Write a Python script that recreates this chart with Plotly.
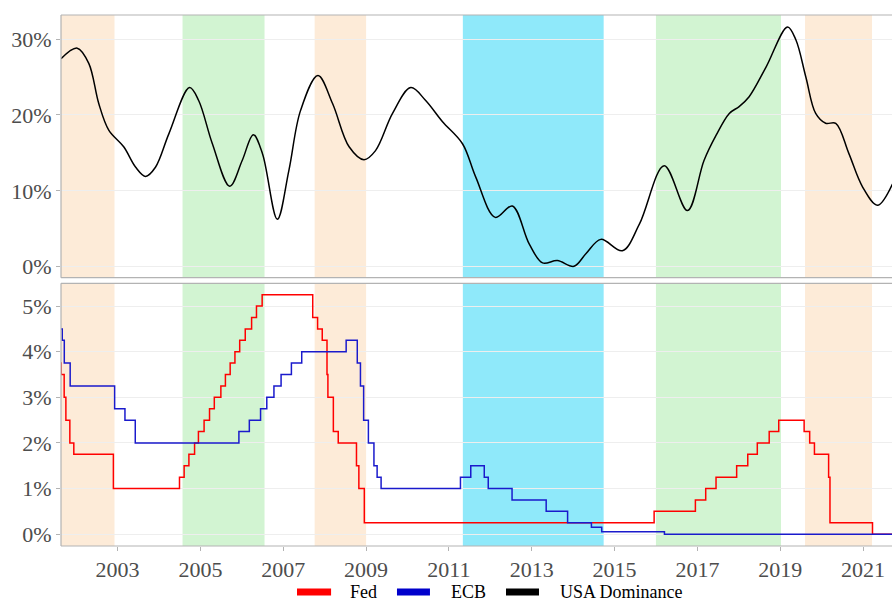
import plotly.graph_objects as go

# Federal funds target rate (upper bound), % -- step changes
fed_dates = [
    "2001-06-27", "2001-08-21", "2001-09-17", "2001-10-02", "2001-11-06", "2001-12-11",
    "2002-11-25", "2004-06-30", "2004-08-10", "2004-09-21", "2004-11-10", "2004-12-14",
    "2005-02-02", "2005-03-22", "2005-05-03", "2005-06-30", "2005-08-09", "2005-09-20",
    "2005-11-01", "2005-12-13", "2006-01-31", "2006-03-28", "2006-05-10", "2006-06-29",
    "2007-09-18", "2007-10-31", "2007-12-11", "2008-01-22", "2008-01-30", "2008-03-18",
    "2008-04-30", "2008-10-08", "2008-10-29", "2008-12-16", "2015-12-16", "2016-12-14",
    "2017-03-15", "2017-06-14", "2017-12-13", "2018-03-21", "2018-06-13", "2018-09-26",
    "2018-12-19", "2019-07-31", "2019-09-18", "2019-10-30", "2020-03-03", "2020-03-15",
    "2021-03-25", "2021-12-31",
]
fed_rate = [
    3.75, 3.5, 3.0, 2.5, 2.0, 1.75,
    1.0, 1.25, 1.5, 1.75, 2.0, 2.25,
    2.5, 2.75, 3.0, 3.25, 3.5, 3.75,
    4.0, 4.25, 4.5, 4.75, 5.0, 5.25,
    4.75, 4.5, 4.25, 3.5, 3.0, 2.25,
    2.0, 1.5, 1.0, 0.25, 0.5, 0.75,
    1.0, 1.25, 1.5, 1.75, 2.0, 2.25,
    2.5, 2.25, 2.0, 1.75, 1.25, 0.25,
    0.0, 0.0,
]

# ECB main refinancing rate, % -- step changes
ecb_dates = [
    "2001-05-15", "2001-08-31", "2001-09-18", "2001-11-09", "2002-12-06", "2003-03-07",
    "2003-06-06", "2005-12-06", "2006-03-08", "2006-06-15", "2006-08-09", "2006-10-11",
    "2006-12-13", "2007-03-14", "2007-06-13", "2008-07-09", "2008-10-15", "2008-11-12",
    "2008-12-10", "2009-01-21", "2009-03-11", "2009-04-08", "2009-05-13", "2011-04-13",
    "2011-07-13", "2011-11-09", "2011-12-14", "2012-07-11", "2013-05-08", "2013-11-13",
    "2014-06-11", "2014-09-10", "2016-03-16", "2021-12-31",
]
ecb_rate = [
    4.5, 4.25, 3.75, 3.25, 2.75, 2.5,
    2.0, 2.25, 2.5, 2.75, 3.0, 3.25,
    3.5, 3.75, 4.0, 4.25, 3.75, 3.25,
    2.5, 2.0, 1.5, 1.25, 1.0, 1.25,
    1.5, 1.25, 1.0, 0.75, 0.5, 0.25,
    0.15, 0.05, 0.0, 0.0,
]

# USA dominance, %
dom_dates = [
    "2001-08-20", "2002-01-10", "2002-04-22", "2002-07-19", "2002-10-15", "2003-02-24",
    "2003-06-10", "2003-09-05", "2003-12-01", "2004-03-28", "2004-09-27", "2004-12-16",
    "2005-04-16", "2005-09-16", "2006-01-04", "2006-04-12", "2006-07-02", "2006-11-10",
    "2007-02-20", "2007-06-03", "2007-11-03", "2008-03-11", "2008-08-04", "2008-12-13",
    "2009-03-25", "2009-08-22", "2010-01-30", "2010-06-10", "2010-11-06", "2011-05-01",
    "2011-08-26", "2012-02-14", "2012-07-13", "2012-12-09", "2013-04-06", "2013-08-15",
    "2014-01-08", "2014-04-23", "2014-09-02", "2015-03-11", "2015-08-08", "2016-03-14",
    "2016-10-05", "2017-02-28", "2017-06-14", "2017-10-09", "2018-01-04", "2018-04-02",
    "2018-08-29", "2019-03-07", "2019-05-19", "2019-08-15", "2019-11-10", "2020-02-06",
    "2020-05-05", "2020-08-29", "2020-12-28", "2021-05-08", "2021-09-17",
]
dom_share = [
    27.4, 28.8, 26.8, 21.5, 18.0, 15.8,
    13.1, 11.9, 13.1, 17.5, 23.6, 21.9,
    16.2, 10.6, 14.0, 17.4, 14.9, 6.25,
    12.7, 20.6, 25.2, 21.5, 15.8, 14.1,
    15.3, 20.2, 23.6, 21.9, 19.1, 16.2,
    11.8, 6.5, 8.0, 3.0, 0.5, 0.8,
    0.05, 1.7, 3.6, 2.1, 5.6, 13.3,
    7.4, 14.0, 17.3, 20.2, 21.1, 22.4,
    26.3, 31.6, 29.9, 25.0, 20.2, 18.9,
    18.9, 14.9, 10.5, 8.1, 10.9,
]

# Highlighted periods
band_start = ["2001-01-01", "2004-07-27", "2007-10-05", "2011-05-04", "2016-01-01", "2019-08-08"]
band_end = ["2002-12-05", "2006-07-20", "2009-01-01", "2014-09-27", "2019-01-08", "2021-03-21"]
band_kind = ["orange", "green", "orange", "cyan", "green", "orange"]

# Axis ticks
top_ticks = [0, 10, 20, 30]
top_labels = ["0%", "10%", "20%", "30%"]
bottom_ticks = [0, 1, 2, 3, 4, 5]
bottom_labels = ["0%", "1%", "2%", "3%", "4%", "5%"]

# Legend entries
legend_names = ["Fed", "ECB", "USA Dominance"]

x_range = ["2001-08-20", "2021-09-13"]

band_colors = {"orange": "#FDEBD8", "green": "#D2F4D2", "cyan": "#8FE9FA"}
legend_colors = ["#FF0000", "#0000CC", "#000000"]
FONT = "Liberation Serif"
TICK_COLOR = "#4D4D4D"
BORDER = "#B3B3B3"
GRID = "#EEEEEE"

fig = go.Figure()

fig.add_trace(go.Scatter(x=dom_dates, y=dom_share, mode="lines", xaxis="x", yaxis="y",
                         name=legend_names[2],
                         line=dict(color="#000000", width=1.5, shape="spline", smoothing=1.0),
                         showlegend=False, hoverinfo="skip"))
fig.add_trace(go.Scatter(x=fed_dates, y=fed_rate, mode="lines", xaxis="x", yaxis="y2",
                         name=legend_names[0],
                         line=dict(color="#FF0000", width=1.5, shape="hv"),
                         showlegend=False, hoverinfo="skip"))
fig.add_trace(go.Scatter(x=ecb_dates, y=ecb_rate, mode="lines", xaxis="x", yaxis="y2",
                         name=legend_names[1],
                         line=dict(color="#1A1ACC", width=1.5, shape="hv"),
                         showlegend=False, hoverinfo="skip"))

shapes = []
for yref in ["y", "y2"]:
    for s, e, k in zip(band_start, band_end, band_kind):
        shapes.append(dict(type="rect", xref="x", yref=yref + " domain", x0=s, x1=e, y0=0, y1=1,
                           fillcolor=band_colors[k], line=dict(width=0), layer="below"))
    # panel border: top, left, bottom
    for x0, y0, x1, y1 in [(0, 1, 1, 1), (0, 0, 0, 1), (0, 0, 1, 0)]:
        shapes.append(dict(type="line", xref="x domain", yref=yref + " domain",
                           x0=x0, y0=y0, x1=x1, y1=y1, line=dict(color=BORDER, width=1.2),
                           layer="above"))

# legend below the panels: key bar + label per entry (paper coordinates)
annotations = []
legend_y = -0.0866
key_x = [(0.284, 0.325), (0.4043, 0.4440), (0.5355, 0.5752)]
text_x = [0.3466, 0.4681, 0.5993]
for (k0, k1), tx, name, col in zip(key_x, text_x, legend_names, legend_colors):
    shapes.append(dict(type="line", xref="paper", yref="paper", x0=k0, x1=k1,
                       y0=legend_y, y1=legend_y, line=dict(color=col, width=7)))
    annotations.append(dict(xref="paper", yref="paper", x=tx, y=legend_y, text=name,
                            showarrow=False, xanchor="left", yanchor="middle", borderpad=0,
                            font=dict(family=FONT, size=18, color="#000000")))

axis_font = dict(family=FONT, size=22, color=TICK_COLOR)

fig.update_layout(
    width=892, height=601,
    margin=dict(l=61, r=0, t=15, b=55),
    paper_bgcolor="white", plot_bgcolor="white",
    font=dict(family=FONT),
    showlegend=False,
    shapes=shapes,
    annotations=annotations,
    xaxis=dict(type="date", range=x_range, anchor="y2", domain=[0, 1],
               tick0="2003-01-01", dtick="M24", tickformat="%Y",
               ticks="outside", ticklen=4, tickcolor=BORDER, tickfont=axis_font,
               showgrid=False, zeroline=False, showline=False),
    yaxis=dict(domain=[0.5053, 1.0], range=[-1.45, 33.17],
               tickmode="array", tickvals=top_ticks, ticktext=top_labels,
               ticks="outside", ticklen=4, tickcolor=BORDER, tickfont=axis_font,
               showgrid=True, gridcolor=GRID, gridwidth=1, zeroline=False, showline=False),
    yaxis2=dict(domain=[0.0, 0.4947], range=[-0.26, 5.5],
                tickmode="array", tickvals=bottom_ticks, ticktext=bottom_labels,
                ticks="outside", ticklen=4, tickcolor=BORDER, tickfont=axis_font,
                showgrid=True, gridcolor=GRID, gridwidth=1, zeroline=False, showline=False),
)

fig.write_html("out.html")
